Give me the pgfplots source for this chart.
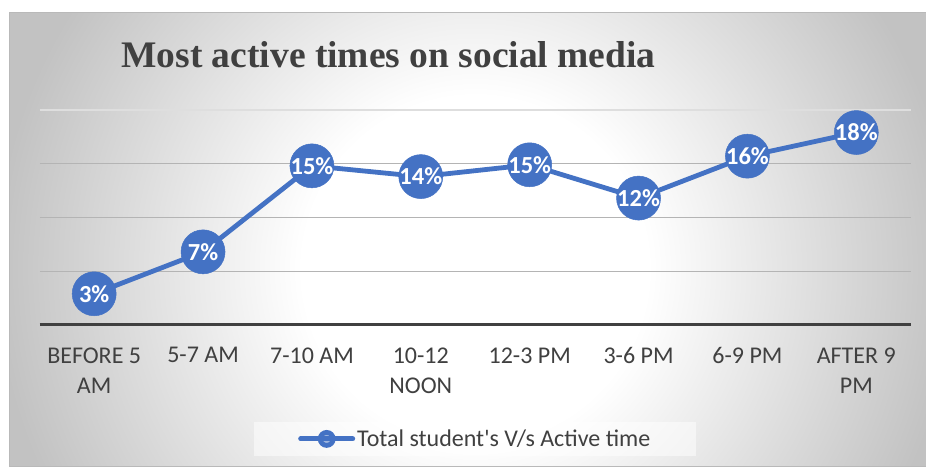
\documentclass[border=0pt]{standalone}
\usepackage{pgfplots}
\pgfplotsset{compat=1.18}
\usepackage{fontspec}
\setmainfont{Carlito}
\newfontfamily\titlefont{Liberation Serif}
\definecolor{ser}{HTML}{4472C4}
\definecolor{txt}{HTML}{404040}
\definecolor{tickc}{HTML}{404040}
\definecolor{bgg}{HTML}{C2C2C2}
\definecolor{gridc}{HTML}{B4B4B4}
\definecolor{gridlight}{HTML}{DEDEDE}
\pgfdeclareradialshading{chartbg}{\pgfpoint{0bp}{0bp}}{color(0bp)=(white); color(9bp)=(white); color(25bp)=(bgg); color(50bp)=(bgg)}

\begin{document}
\begin{tikzpicture}[x=1pt,y=1pt]
\fill[white] (0,0) rectangle (926,469);
\begin{scope}
\clip (9,3) rectangle (926,456);
\fill[bgg] (9,3) rectangle (926,456);
\shade[shading=chartbg] (475,200) circle (480);
\end{scope}
\draw[gray!55, line width=1pt] (9,3) rectangle (932,456);
\node[font=\titlefont\bfseries\fontsize{37.5}{44}\selectfont, text=txt, anchor=base] at (388.5,401) {Most active times on social media};
\begin{axis}[
  at={(36.5,134)}, anchor=south west, scale only axis,
  width=871pt, height=215pt,
  xmin=-0.5, xmax=7.5, ymin=0, ymax=20,
  axis x line*=bottom, axis y line*=left,
  y axis line style={draw=none},
  x axis line style={draw=txt, line width=3pt, -},
  xtick={0,...,7},
  xticklabels={BEFORE 5\\AM, 5-7 AM, 7-10 AM, 10-12\\NOON, 12-3 PM, 3-6 PM, 6-9 PM, AFTER 9\\PM},
  xticklabel style={align=center, font=\fontsize{24}{30}\selectfont, text=tickc, yshift=-19pt},
  major tick length=0pt,
  ytick={5,10,15}, yticklabels={},
  ymajorgrids,
  grid style={draw=gridc, line width=1.2pt},
  extra y ticks={20}, extra y tick labels={},
  extra y tick style={grid style={draw=gridlight, line width=1.2pt}},
  clip=false,
  legend style={at={(0.5,-0.53)}, anchor=center, draw=none, fill=white, fill opacity=0.5, text opacity=1,
    font=\fontsize{24}{28}\selectfont, text=txt, inner xsep=44pt, inner ysep=6pt},
  legend image code/.code={\draw[ser, line width=5pt, line cap=round] (0pt,0pt)--(52pt,0pt); \fill[ser] (26pt,0pt) circle (6.5pt);},
]
\addplot[ser, line width=4.8pt, mark=*, mark size=22pt,
  mark options={fill=ser, draw=ser, line width=0.5pt},
  point meta=explicit symbolic, nodes near coords,
  every node near coord/.append style={anchor=center, text=white, font=\bfseries\fontsize{24.5}{28}\selectfont, inner sep=0pt}]
  coordinates {
  (0,2.9) [3\%]
  (1,6.8) [7\%]
  (2,14.8) [15\%]
  (3,13.8) [14\%]
  (4,14.9) [15\%]
  (5,11.8) [12\%]
  (6,15.7) [16\%]
  (7,17.9) [18\%]
  };
\addlegendentry{Total student\textquotesingle s V/s Active time}
\end{axis}
\pgfresetboundingbox
\path[use as bounding box] (0,0) rectangle (926,469);
\end{tikzpicture}
\end{document}
